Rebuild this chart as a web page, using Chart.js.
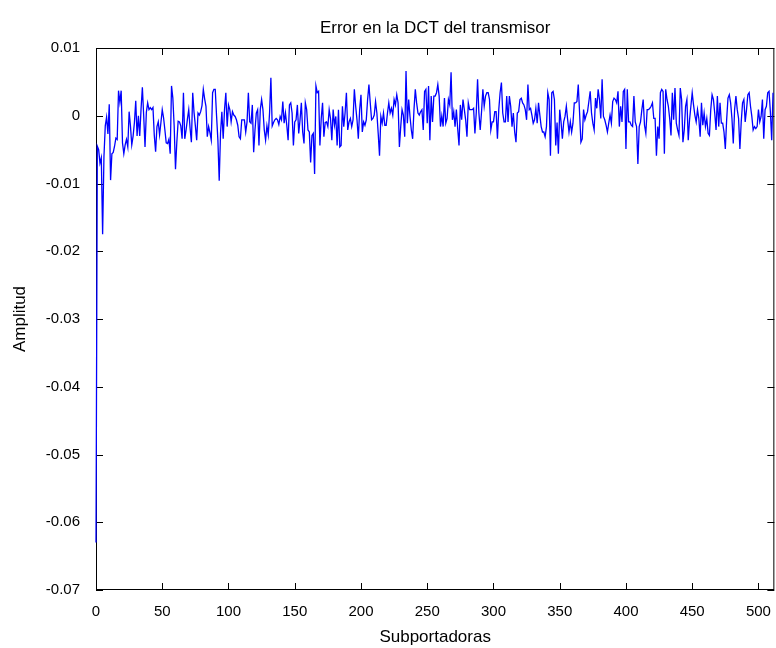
<!DOCTYPE html>
<html>
<head>
<meta charset="utf-8">
<script src="https://cdn.jsdelivr.net/npm/chart.js@4.4.1/dist/chart.umd.min.js"></script>
<style>
  html, body { margin: 0; padding: 0; background: #fff; }
  #errChart { display: block; }
</style>
</head>
<body>
<canvas id="errChart" width="776" height="648"></canvas>
<script>
// Error values, in units of 1e-3, one per subcarrier
const err0 = [-63, -4.5, -5, -7, -6.2, -17.5, -6, -1.5, -0.2, -2.7, 1.7, -9.5, -5.6, -5.4, -4.5, -3.3, -3.5, 3.7, 2, 3.7,
    -4, -5.6, -4.3, -3.5, -4.6, 0.6, -1.5, -4.3, -3, -1, 2.2, -3, 0, -3, 1, 4.2, 0, -4.6, 0.5, 1.9, 0.9, 1.2];
const err1 = [0.9, 1.2, -2.9, -5.3, -1.6, -0.9, -2.8, -1, 0.9, -0.3, -2.1, -4, -4.1, -3.5, -5.6, 4.4, 2.6, -1.5, -7.9, -3.9,
    -0.8, -0.9, -1.5, -3.4, 3.4, -3.4, -2.1, -0.5, 0.9, -1.8, -3.9, 3.4, 0.5, -1.5, -3.6, 0.4, 0.1, 0.6, 1.5, 3.9,
    2.5, 1.4, -3.1, -1.6];
const err2 = [-2.5, -3.6, 3.4, 3.9, 3.9, 0, -3.6, -9.6, -2.5, 0.6, -3.4, 0.9, 3.4, -1.6, 1.6, 0.9, -0.9, 0.6, 0.1, -0.1,
    -0.6, -1.4, -3.1, -3.4, -0.6, -0.6, -0.6, -2.4, -0.9, 3.4, -0.9, -1.1, 1.6, -5.4, -2.1, 0.4, 0.9, -4.4, 0.9, 2.4,
    0.9, -2.1, -3.6, -1.5];
const err3 = [-2.8, 0.4, 5.6, -1.5, -1, -0.6, -0.4, -0.6, -1.3, -0.1, -0.6, 2.1, -1.1, 0.4, -1.4, -3.6, 1.6, 1.9, 0.4, -4.4,
    -0.9, -0.6, 1.6, -2.6, -0.6, 1.9, -2.4, -4.1, 1.9, 0.9, -2.1, -2.4, -6.9, -2.9, -2.6, -8.6, 4.4, 3.4, 3.6, -4.4,
    -0.4, 1.9, -3.1, -1];
const err4 = [-0.9, -1.6, 0.9, -0.4, -3.6, 0.9, -1.4, -0.1, -4.4, 0.9, -4.6, -4.4, 1.4, -1.6, 0.4, 3.4, -2.1, -0.9, -0.4, -1.6,
    -0.6, 3.9, 1.4, -0.6, -3.4, 0.9, 3.1, -2.4, -0.9, -1.4, -0.6, 2.4, 4.6, 1.9, -0.6, -0.4, 0.1, 2.1, 0.4, -2.6,
    -5.9, -0.1, -1.1];
const err5 = [0.4, -1.4, -1.4, 0.4, 1.9, 0.4, 1.1, 0.1, 2.4, 1.6, 3.1, 1.9, -4.6, -1.6, 0.9, 0.1, -3.1, 6.6, -1.1, 2.4,
    -0.1, -2.1, -3.4, 0.9, 3.9, 1.9, 0.4, 0.1, 0.6, 0.9, -2.1, 3.6, 3.9, -1.1, 4.4, -3.6, 2.9, -0.9, 2.9, 2.9,
    3.4, 4.6, 2.9, -1.6];
const err6 = [0, -1.6, 2.6, -1.1, -0.4, 2.4, 1.6, 6.4, -0.6, 0.6, -1.6, 0.9, -1.9, -4.4, 1.6, -0.6, 2.4, 0.9, -0.6, -3.1,
    1.9, 0.9, 0.9, 0.9, 1.1, -2.6, 0.4, 5.4, 0.4, -2.1, 0.6, 3.9, 1.4, 2.9, 3.4, 3.4, 2.4, -2.1, -0.9, -0.9,
    0.6, 0.6, -3.4, 0.9];
const err7 = [3.4, 4.9, 0.4, -0.9, -0.9, 2.9, -0.9, 2.9, 1.4, -1.6, 0.4, -2.4, -3.9, 0.4, 0.6, 2.4, 2.6, 1.9, 1.6, 0.9,
    -0.6, 4.6, 0.9, 1.1, 0.1, -1.1, -0.6, 1.1, -1.1, 1.9, 0.1, -1.6, -2.4, -2.4, -3.1, -1.6, 3.4, 2.4, -5.9, 3.4,
    3.6, 2.4, -4.4];
const err8 = [-1, -5.6, 0.9, -0.9, -3.4, -0.9, -0.1, 1.4, -0.6, -2.4, -0.9, -2.4, -1.1, 1.9, 1.9, 2.1, 4.6, 0.4, -3.9, -3.4,
    0.9, -0.6, 0.1, 0.6, 2.1, 3.6, 0.4, -1.1, -2.1, 2.6, 1.1, 3.9, 2.4, -0.4, 5.4, -0.1, -0.6, -1.4, -2.4, -1.1,
    0.1, -1.1, 2.1, 2.6];
const err9 = [2.4, 1.9, 3.6, -1.6, 1.4, -0.9, 3.6, 3.9, -4.9, 3.9, -0.9, -0.9, -1.4, -1.6, 2.9, -0.9, -1.6, -7.1, -1.6, -0.9,
    0.9, 2.4, -1.4, -2.6, 0.9, 0.9, 1.1, 1.4, 1.9, -0.4, -0.4, -5.9, -1.6, -3.4, 3.4, 3.9, 3.6, -5.6, 3.9, 2.4,
    1.4, -0.4, -2.9, 3.4];
const err10 = [-0.6, 4.1, -1.1, -2.1, -2.9, 4.1, 2.4, -3.9, -2.1, 1.4, 2.4, -3.6, -0.6, 1.4, 3.4, 1.6, 0.1, -0.9, 0.9, -0.4,
    -3.1, 1.9, -1.4, 0.4, -1.6, -0.4, -2.6, -2.9, 0.9, 3.1, 2.4, 0.4, -2.1, 2.9, -1.6, 1.9, -1.1, -1.1, -2.4, -4.9,
    -0.6, 2.6, 3.1, 1.9];
const err11 = [-0.4, -4.1, 0.9, 2.9, 0.9, -0.4, -4.9, -0.9, 1.9, 2.4, -0.9, 0.9, 3.1, 3.4, 1.4, -0.1, -2.1, -1.6, -1.9, -1.6,
    0.9, -0.9, -0.1, 2.4, -3.4, 0.9, 1.4, 3.4, 3.6, 0.6, -3.6, 3.4];

const errMilli = [].concat(err0, err1, err2, err3, err4, err5, err6, err7, err8, err9, err10, err11);
const subcarriers = errMilli.map((v, i) => i);

const xTicks = { min: 0, max: 512, step: 50 };
const yTicks = { min: -0.07, max: 0.01, step: 0.01 };

// MATLAB-like box with inward ticks on all four sides, drawn under the data
const boxTicks = {
    id: 'boxTicks',
    beforeDatasetsDraw(chart) {
        const { ctx, chartArea: a, scales: { x, y } } = chart;
        const len = 7;
        ctx.save();
        ctx.strokeStyle = '#000';
        ctx.lineWidth = 1;
        ctx.strokeRect(a.left + 0.5, a.top + 0.5, a.right - a.left - 1, a.bottom - a.top - 1);
        ctx.beginPath();
        x.ticks.forEach(t => {
            const px = Math.round(x.getPixelForValue(t.value)) + 0.5;
            ctx.moveTo(px, a.bottom);
            ctx.lineTo(px, a.bottom - len);
            ctx.moveTo(px, a.top);
            ctx.lineTo(px, a.top + len);
        });
        y.ticks.forEach(t => {
            const py = Math.round(y.getPixelForValue(t.value)) + 0.5;
            ctx.moveTo(a.left, py);
            ctx.lineTo(a.left + len, py);
            ctx.moveTo(a.right, py);
            ctx.lineTo(a.right - len, py);
        });
        ctx.stroke();
        ctx.restore();
    }
};

Chart.defaults.font.family = 'Arial, "Liberation Sans", Helvetica, sans-serif';
Chart.defaults.color = '#000';

const ctx = document.getElementById('errChart').getContext('2d');
new Chart(ctx, {
    type: 'line',
    data: {
        datasets: [{
            data: errMilli.map((v, i) => ({ x: subcarriers[i], y: v / 1000 })),
            borderColor: 'rgb(0,0,255)',
            borderWidth: 1.3,
            pointRadius: 0,
            tension: 0,
            fill: false,
            clip: 2
        }]
    },
    options: {
        responsive: false,
        animation: false,
        events: [],
        layout: { padding: { left: 0, right: 1, top: 0, bottom: 0 } },
        plugins: {
            legend: { display: false },
            tooltip: { enabled: false },
            title: {
                display: true,
                fullSize: false,
                text: 'Error en la DCT del transmisor',
                font: { size: 17, weight: 'normal' },
                padding: { top: 18, bottom: 9.6 }
            }
        },
        scales: {
            x: {
                type: 'linear',
                min: xTicks.min,
                max: xTicks.max,
                grid: { display: false },
                border: { display: false },
                ticks: {
                    stepSize: xTicks.step,
                    includeBounds: false,
                    maxRotation: 0,
                    autoSkip: false,
                    padding: 5,
                    font: { size: 15 }
                },
                title: {
                    display: true,
                    text: 'Subportadoras',
                    font: { size: 17 },
                    padding: { top: 0, bottom: 0 }
                },
                afterFit(scale) { scale.height = 58; }
            },
            y: {
                type: 'linear',
                min: yTicks.min,
                max: yTicks.max,
                grid: { display: false },
                border: { display: false },
                ticks: {
                    stepSize: yTicks.step,
                    autoSkip: false,
                    padding: 8,
                    font: { size: 15 },
                    callback: v => String(Number(v.toFixed(2)))
                },
                title: {
                    display: true,
                    text: 'Amplitud',
                    font: { size: 17 },
                    padding: { top: 10, bottom: 0 }
                },
                afterFit(scale) { scale.width = 96; }
            }
        }
    },
    plugins: [boxTicks]
});
</script>
</body>
</html>
